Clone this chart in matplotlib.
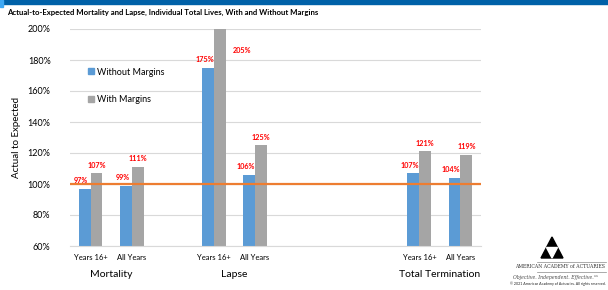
import matplotlib
matplotlib.use("Agg")
import matplotlib.pyplot as plt
from matplotlib.patches import Patch, Polygon, Rectangle
from matplotlib.transforms import blended_transform_factory

plt.rcParams['font.family'] = ['Lato', 'DejaVu Sans']

# data
slots = [0, 1, 3, 4, 8, 9]
sub_labels = ["Years 16+", "All Years", "Years 16+", "All Years", "Years 16+", "All Years"]
without_margins = [97, 99, 175, 106, 107, 104]
with_margins = [107, 111, 205, 125, 121, 119]
groups = ["Mortality", "Lapse", "Total Termination"]
group_pos = [0.5, 3.5, 8.5]

blue = '#5B9BD5'
gray = '#A5A5A5'
orange = '#ED7D31'

fig = plt.figure(figsize=(6.08, 2.9), dpi=100)
W, H = 608, 290
ax = fig.add_axes([70 / W, 1 - 246 / H, 411 / W, 217 / H])

bw = 0.29
xb = [s - bw / 2 for s in slots]
xg = [s + bw / 2 for s in slots]
ax.bar(xb, without_margins, width=bw, color=blue, zorder=2)
ax.bar(xg, with_margins, width=bw, color=gray, zorder=2)
ax.axhline(100, color=orange, lw=1.6, zorder=3)

ax.set_ylim(60, 200)
ax.set_xlim(-0.5, 9.5)
ax.set_yticks(range(60, 201, 20))
ax.set_yticklabels([f"{v}%" for v in range(60, 201, 20)], fontsize=6.5)
ax.set_xticks(slots)
ax.set_xticklabels(sub_labels, fontsize=5.5)
ax.tick_params(length=0, pad=6)
ax.tick_params(axis='y', pad=14)
ax.grid(axis='y', color='#D9D9D9', lw=0.8, zorder=0)
for s in ['top', 'right', 'left']:
    ax.spines[s].set_visible(False)
ax.spines['bottom'].set_color('#D9D9D9')
ax.set_ylabel("Actual to Expected", fontsize=7, labelpad=5)

# data labels
lab = dict(color='#FF0000', fontsize=5.2, fontweight='bold', ha='center', va='bottom')
for x, v in zip(xb, without_margins):
    ax.text(x - 0.08, v + 3, f"{v}%", **lab)
for x, v in zip(xg, with_margins):
    if v > 200:
        ax.text(x + 0.55, 184, f"{v}%", **lab)
    else:
        ax.text(x, v + 3, f"{v}%", **lab)

tr = blended_transform_factory(ax.transData, ax.transAxes)
for g, p in zip(groups, group_pos):
    ax.text(p, -0.13, g, transform=tr, ha='center', va='center', fontsize=7.5)

ax.legend(handles=[Patch(color=blue, label="Without Margins"),
                   Patch(color=gray, label="With Margins")],
          loc='upper left', bbox_to_anchor=(0.025, 0.86), frameon=False,
          fontsize=6.5, handlelength=0.6, handleheight=0.6, handletextpad=0.4,
          labelspacing=2.1)

# header
fig.patches.append(Rectangle((0, 1 - 4 / H), 1, 4 / H, transform=fig.transFigure,
                             color='#0061A8', zorder=0))
fig.patches.append(Rectangle((0, 1 - 7 / H), 3 / W, 7 / H, transform=fig.transFigure,
                             color='#3FA9F5', zorder=1))
fig.text(7 / W, 1 - 12 / H, "Actual-to-Expected Mortality and Lapse, Individual Total Lives, With and Without Margins",
         fontsize=5.6, fontweight='bold', va='center', ha='left')

# logo
def fp(x, y):
    return (x / W, 1 - y / H)

fig.patches.append(Polygon([fp(552, 237), fp(541, 258), fp(563, 258)], closed=True,
                           transform=fig.transFigure, color='black'))
fig.patches.append(Polygon([fp(546.5, 247.5), fp(557.5, 247.5), fp(552, 258)], closed=True,
                           transform=fig.transFigure, color='white'))
for yy in (262, 272):
    fig.add_artist(plt.Line2D([537 / W, 606 / W], [1 - yy / H] * 2, color='#888888', lw=0.5))
fig.text(605 / W, 1 - 267 / H, "AMERICAN ACADEMY of ACTUARIES", fontsize=3.3, family='DejaVu Serif',
         ha='right', va='center', color='#333333')
fig.text(598 / W, 1 - 278 / H, "Objective. Independent. Effective.\u2122", fontsize=3.3,
         family='DejaVu Serif', style='italic', ha='right', va='center', color='#444444')
fig.text(606 / W, 1 - 284 / H, "\u00a9 2021 American Academy of Actuaries. All rights reserved.", fontsize=2.6,
         ha='right', va='center', color='#222222')

fig.savefig("out.png", dpi=100)
